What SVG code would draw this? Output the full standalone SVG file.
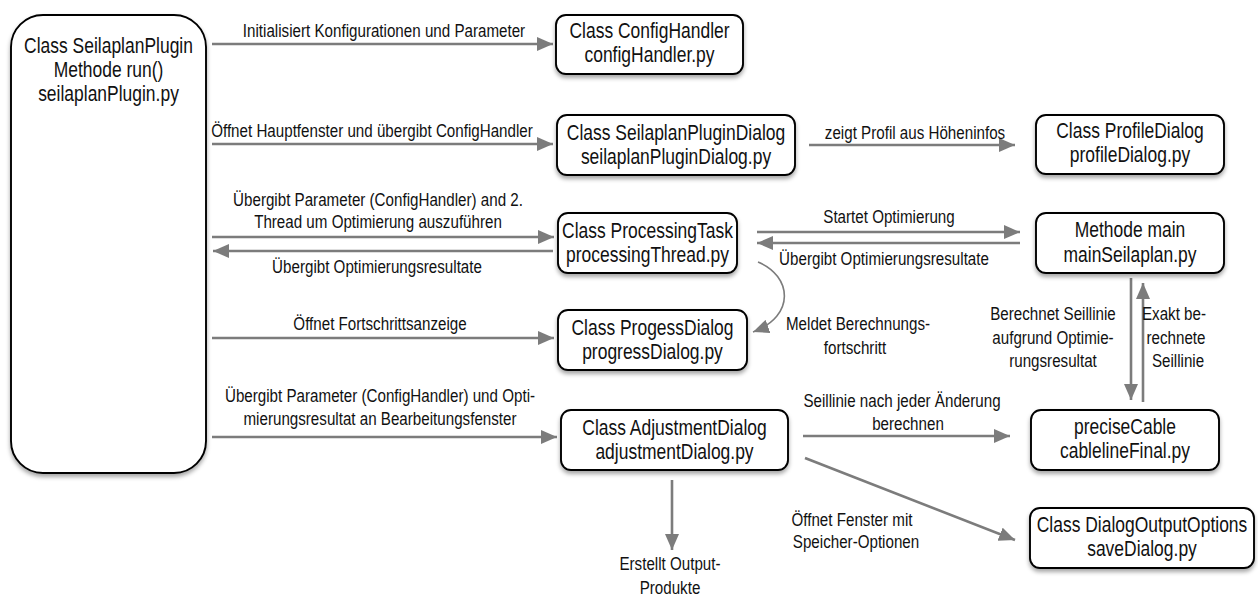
<svg xmlns="http://www.w3.org/2000/svg" width="1258" height="599" viewBox="0 0 1258 599">
  <defs>
    <filter id="shadow" x="-10%" y="-20%" width="120%" height="150%">
      <feDropShadow dx="0" dy="3" stdDeviation="2.2" flood-color="#000" flood-opacity="0.35"/>
    </filter>
    <marker id="arrow" markerUnits="userSpaceOnUse" viewBox="0 0 16 14" markerWidth="16" markerHeight="14" refX="16" refY="7" orient="auto">
      <path d="M0,0 L16,7 L0,14 z" fill="#7c7c7c"/>
    </marker>
  </defs>
  <style>
    .box { fill: #fff; stroke: #000; stroke-width: 1.9; filter: url(#shadow); }
    text { font-family: "Liberation Sans", Arial, sans-serif; fill: #111; text-anchor: middle; }
    .node { font-size: 21.3px; }
    .lbl { font-size: 18.5px; }
    .edge { fill: none; stroke: #7c7c7c; stroke-width: 2.6; marker-end: url(#arrow); }
    .thin { stroke-width: 1.6; }
  </style>
  <rect width="1258" height="599" fill="#fff"/>

  <!-- connectors; every text is condensed horizontally to 82 % around its anchor -->
  <g id="connectors">
    <path class="edge" d="M212,44 H553"/>
    <path class="edge" d="M212,144 H553"/>
    <path class="edge" d="M212,237 H554"/>
    <path class="edge" d="M553,251 H213"/>
    <path class="edge" d="M212,338 H554"/>
    <path class="edge" d="M212,437 H557"/>
    <path class="edge" d="M809,145 H1015"/>
    <path class="edge" d="M757,232 H1020"/>
    <path class="edge" d="M1020,243 H757"/>
    <path class="edge thin" d="M758,262 C792,276 796,316 753,332"/>
    <path class="edge" d="M1131,278 V400"/>
    <path class="edge" d="M1143,402 V283"/>
    <path class="edge" d="M803,436 H1010"/>
    <path class="edge" d="M805,458 L1015,540"/>
    <path class="edge" d="M672,480 V550"/>

    <text class="lbl" transform="translate(384,37) scale(0.82,1)">Initialisiert Konfigurationen und Parameter</text>
    <text class="lbl" transform="translate(372,137) scale(0.82,1)">Öffnet Hauptfenster und übergibt ConfigHandler</text>
    <text class="lbl" transform="translate(378,206) scale(0.82,1)">Übergibt Parameter (ConfigHandler) and 2.</text>
    <text class="lbl" transform="translate(378,228) scale(0.82,1)">Thread um Optimierung auszuführen</text>
    <text class="lbl" transform="translate(377,273) scale(0.82,1)">Übergibt Optimierungsresultate</text>
    <text class="lbl" transform="translate(380,330) scale(0.82,1)">Öffnet Fortschrittsanzeige</text>
    <text class="lbl" transform="translate(380,402) scale(0.82,1)">Übergibt Parameter (ConfigHandler) und Opti-</text>
    <text class="lbl" transform="translate(380,425) scale(0.82,1)">mierungsresultat an Bearbeitungsfenster</text>
    <text class="lbl" transform="translate(915,139) scale(0.82,1)">zeigt Profil aus Höheninfos</text>
    <text class="lbl" transform="translate(889,223) scale(0.82,1)">Startet Optimierung</text>
    <text class="lbl" transform="translate(884,265) scale(0.82,1)">Übergibt Optimierungsresultate</text>
    <text class="lbl" transform="translate(858,330) scale(0.82,1)">Meldet Berechnungs-</text>
    <text class="lbl" transform="translate(855,354) scale(0.82,1)">fortschritt</text>
    <text class="lbl" transform="translate(1053,320) scale(0.82,1)">Berechnet Seillinie</text>
    <text class="lbl" transform="translate(1053,344) scale(0.82,1)">aufgrund Optimie-</text>
    <text class="lbl" transform="translate(1053,367) scale(0.82,1)">rungsresultat</text>
    <text class="lbl" transform="translate(1174,320) scale(0.82,1)">Exakt be-</text>
    <text class="lbl" transform="translate(1176,344) scale(0.82,1)">rechnete</text>
    <text class="lbl" transform="translate(1178,367) scale(0.82,1)">Seillinie</text>
    <text class="lbl" transform="translate(902,407) scale(0.82,1)">Seillinie nach jeder Änderung</text>
    <text class="lbl" transform="translate(908,430) scale(0.82,1)">berechnen</text>
    <text class="lbl" transform="translate(852,526) scale(0.82,1)">Öffnet Fenster mit</text>
    <text class="lbl" transform="translate(856,548) scale(0.82,1)">Speicher-Optionen</text>
    <text class="lbl" transform="translate(670,570) scale(0.82,1)">Erstellt Output-</text>
    <text class="lbl" transform="translate(670,594) scale(0.82,1)">Produkte</text>
  </g>

  <!-- nodes -->
  <g id="seilaplanPlugin">
    <rect class="box" x="11" y="15" width="195" height="458" rx="32"/>
    <text class="node" transform="translate(108.5,53) scale(0.82,1)">Class SeilaplanPlugin</text>
    <text class="node" transform="translate(108.5,77) scale(0.82,1)">Methode run()</text>
    <text class="node" transform="translate(108.5,101) scale(0.82,1)">seilaplanPlugin.py</text>
  </g>
  <g id="configHandler">
    <rect class="box" x="556" y="15" width="187" height="59" rx="10"/>
    <text class="node" transform="translate(649.5,38) scale(0.82,1)">Class ConfigHandler</text>
    <text class="node" transform="translate(649.5,62) scale(0.82,1)">configHandler.py</text>
  </g>
  <g id="seilaplanPluginDialog">
    <rect class="box" x="557" y="115" width="238" height="60" rx="10"/>
    <text class="node" transform="translate(676,140) scale(0.82,1)">Class SeilaplanPluginDialog</text>
    <text class="node" transform="translate(676,164) scale(0.82,1)">seilaplanPluginDialog.py</text>
  </g>
  <g id="profileDialog">
    <rect class="box" x="1036" y="115" width="188" height="59" rx="10"/>
    <text class="node" transform="translate(1130,138) scale(0.82,1)">Class ProfileDialog</text>
    <text class="node" transform="translate(1130,162) scale(0.82,1)">profileDialog.py</text>
  </g>
  <g id="processingTask">
    <rect class="box" x="558" y="213" width="179" height="60" rx="10"/>
    <text class="node" transform="translate(647.5,238) scale(0.82,1)">Class ProcessingTask</text>
    <text class="node" transform="translate(647.5,262) scale(0.82,1)">processingThread.py</text>
  </g>
  <g id="mainSeilaplan">
    <rect class="box" x="1036" y="213" width="188" height="60" rx="10"/>
    <text class="node" transform="translate(1130,237) scale(0.82,1)">Methode main</text>
    <text class="node" transform="translate(1130,262) scale(0.82,1)">mainSeilaplan.py</text>
  </g>
  <g id="progressDialog">
    <rect class="box" x="558" y="310" width="189" height="60" rx="10"/>
    <text class="node" transform="translate(652.5,335) scale(0.82,1)">Class ProgessDialog</text>
    <text class="node" transform="translate(652.5,359) scale(0.82,1)">progressDialog.py</text>
  </g>
  <g id="adjustmentDialog">
    <rect class="box" x="561" y="410" width="227" height="60" rx="10"/>
    <text class="node" transform="translate(674.5,435) scale(0.82,1)">Class AdjustmentDialog</text>
    <text class="node" transform="translate(674.5,459) scale(0.82,1)">adjustmentDialog.py</text>
  </g>
  <g id="preciseCable">
    <rect class="box" x="1031" y="410" width="188" height="60" rx="10"/>
    <text class="node" transform="translate(1125,434) scale(0.82,1)">preciseCable</text>
    <text class="node" transform="translate(1125,458) scale(0.82,1)">cablelineFinal.py</text>
  </g>
  <g id="dialogOutputOptions">
    <rect class="box" x="1030" y="508" width="224" height="60" rx="10"/>
    <text class="node" transform="translate(1142,532) scale(0.82,1)">Class DialogOutputOptions</text>
    <text class="node" transform="translate(1142,556) scale(0.82,1)">saveDialog.py</text>
  </g>
</svg>
